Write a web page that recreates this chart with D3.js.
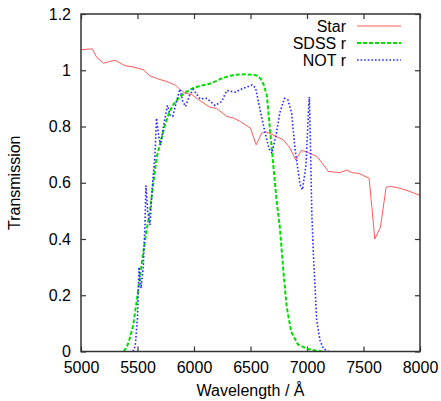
<!DOCTYPE html>
<html>
<head>
<meta charset="utf-8">
<script src="https://cdn.jsdelivr.net/npm/d3@7"></script>
<style>
  body { margin: 0; background: #fff; }
  text { font-family: "Liberation Sans", Arial, sans-serif; font-size: 16px; fill: #000; }
</style>
</head>
<body>
<svg id="chart" width="441" height="401"></svg>
<script>
// star spectrum (normalised)
var starWave = [5000, 5100, 5140, 5200, 5300, 5390, 5460, 5550, 5610, 5690, 5760, 5840, 5880, 5920, 5980, 6040, 6090, 6140, 6200, 6290, 6350, 6410, 6500, 6550, 6600, 6640, 6700, 6790, 6850, 6900, 6950, 7000, 7090, 7190, 7290, 7350, 7400, 7460, 7550, 7600, 7650, 7700, 7740, 7820, 7910, 8000]
var starVal = [1.073, 1.076, 1.045, 1.025, 1.036, 1.016, 1.012, 1.002, 0.980, 0.968, 0.960, 0.946, 0.930, 0.918, 0.914, 0.895, 0.882, 0.869, 0.864, 0.836, 0.830, 0.818, 0.794, 0.735, 0.777, 0.780, 0.770, 0.753, 0.723, 0.681, 0.715, 0.709, 0.693, 0.640, 0.636, 0.645, 0.636, 0.633, 0.616, 0.400, 0.442, 0.584, 0.587, 0.581, 0.569, 0.555]

// SDSS r filter
var sdssWave = [5380, 5420, 5460, 5490, 5520, 5550, 5580, 5610, 5640, 5670, 5700, 5740, 5780, 5820, 5880, 5940, 6000, 6060, 6140, 6200, 6250, 6350, 6450, 6550, 6590, 6620, 6645, 6670, 6700, 6730, 6760, 6790, 6820, 6860, 6920, 7000, 7090, 7150]
var sdssVal = [0, 0.03, 0.09, 0.17, 0.26, 0.35, 0.43, 0.50, 0.60, 0.69, 0.74, 0.80, 0.85, 0.88, 0.908, 0.925, 0.938, 0.945, 0.952, 0.962, 0.972, 0.983, 0.986, 0.982, 0.97, 0.945, 0.91, 0.80, 0.67, 0.54, 0.44, 0.29, 0.16, 0.07, 0.025, 0.01, 0.002, 0]

// NOT r filter
var notWave = [5460, 5480, 5500, 5513, 5531, 5551, 5566, 5575, 5590, 5611, 5630, 5655, 5668, 5690, 5705, 5730, 5765, 5790, 5812, 5845, 5876, 5900, 5925, 5960, 5994, 6053, 6112, 6186, 6245, 6290, 6363, 6422, 6515, 6545, 6584, 6628, 6665, 6690, 6731, 6760, 6800, 6830, 6864, 6894, 6938, 6960, 6990, 7005, 7015, 7021, 7030, 7042, 7056, 7071, 7086, 7115, 7145, 7190]
var notVal = [0, 0.02, 0.12, 0.30, 0.225, 0.30, 0.45, 0.59, 0.50, 0.45, 0.58, 0.70, 0.83, 0.76, 0.735, 0.80, 0.875, 0.84, 0.836, 0.89, 0.933, 0.89, 0.871, 0.91, 0.932, 0.898, 0.90, 0.875, 0.889, 0.928, 0.922, 0.933, 0.948, 0.937, 0.86, 0.78, 0.72, 0.705, 0.78, 0.85, 0.90, 0.895, 0.848, 0.72, 0.595, 0.575, 0.66, 0.78, 0.87, 0.905, 0.75, 0.50, 0.35, 0.23, 0.11, 0.04, 0.01, 0]

var xTicks = [5000, 5500, 6000, 6500, 7000, 7500, 8000]
var yTicks = [0, 0.2, 0.4, 0.6, 0.8, 1, 1.2]
var seriesNames = ['Star', 'SDSS r', 'NOT r']

var svg = d3.select('#chart')
var margin = {left: 81, right: 21, top: 14, bottom: 49.5}
var W = 441 - margin.left - margin.right
var H = 401 - margin.top - margin.bottom

var x = d3.scaleLinear().domain([5000, 8000]).range([0, W])
var y = d3.scaleLinear().domain([0, 1.2]).range([H, 0])

var g = svg.append('g').attr('transform', 'translate(' + margin.left + ',' + margin.top + ')')

// ticks on all four sides, pointing inwards
var tk = 5
g.append('g').attr('class', 'axis')
    .attr('transform', 'translate(0,' + H + ')')
    .call(d3.axisBottom(x).tickValues(xTicks).tickSizeInner(-tk).tickSizeOuter(0).tickPadding(10).tickFormat(d3.format('d')))
g.append('g').attr('class', 'axis')
    .call(d3.axisTop(x).tickValues(xTicks).tickSizeInner(-tk).tickSizeOuter(0).tickFormat(''))
g.append('g').attr('class', 'axis')
    .call(d3.axisLeft(y).tickValues(yTicks).tickSizeInner(-tk).tickSizeOuter(0).tickPadding(10).tickFormat(d3.format('')))
g.append('g').attr('class', 'axis')
    .attr('transform', 'translate(' + W + ',0)')
    .call(d3.axisRight(y).tickValues(yTicks).tickSizeInner(-tk).tickSizeOuter(0).tickFormat(''))

g.selectAll('.axis .domain').remove()
g.selectAll('.axis line').attr('stroke', '#333').attr('stroke-width', 1.2)
g.selectAll('.axis text').style('font-size', '16px').attr('fill', '#000')
    .style('font-family', '"Liberation Sans", Arial, sans-serif')

var clip = svg.append('clipPath').attr('id', 'plotclip')
clip.append('rect').attr('width', W).attr('height', H)

var lineGen = d3.line()
    .x(d => x(d[0]))
    .y(d => y(d[1]))

var series = [
    {wave: starWave, val: starVal, color: '#ff5a5a', width: 1, dash: null},
    {wave: sdssWave, val: sdssVal, color: '#00dd00', width: 2, dash: '4,2'},
    {wave: notWave, val: notVal, color: '#2a2aff', width: 1.6, dash: '1.6,2'}
]

series.forEach(function (s, i) {
    var pts = d3.zip(s.wave, s.val)
    g.append('path')
        .attr('d', lineGen(pts))
        .attr('fill', 'none')
        .attr('stroke', s.color)
        .attr('stroke-width', s.width)
        .attr('stroke-dasharray', s.dash)
        .attr('clip-path', 'url(#plotclip)')
})

// frame
g.append('rect')
    .attr('width', W).attr('height', H)
    .attr('fill', 'none').attr('stroke', '#333').attr('stroke-width', 1.5)

// legend
var legend = g.append('g').attr('transform', 'translate(' + (W - 74) + ',12)')
series.forEach(function (s, i) {
    var row = legend.append('g').attr('transform', 'translate(0,' + (i * 17) + ')')
    row.append('text')
        .attr('x', 0).attr('y', 0).attr('dy', '0.35em')
        .attr('text-anchor', 'end')
        .text(seriesNames[i])
    row.append('line')
        .attr('x1', 11).attr('x2', 55)
        .attr('stroke', s.color)
        .attr('stroke-width', s.width)
        .attr('stroke-dasharray', s.dash)
})

svg.append('text')
    .attr('x', margin.left + W / 2).attr('y', 396)
    .attr('text-anchor', 'middle')
    .text('Wavelength / Å')

svg.append('text')
    .attr('transform', 'translate(20,' + (margin.top + H / 2) + ') rotate(-90)')
    .attr('text-anchor', 'middle')
    .text('Transmission')
</script>
</body>
</html>
